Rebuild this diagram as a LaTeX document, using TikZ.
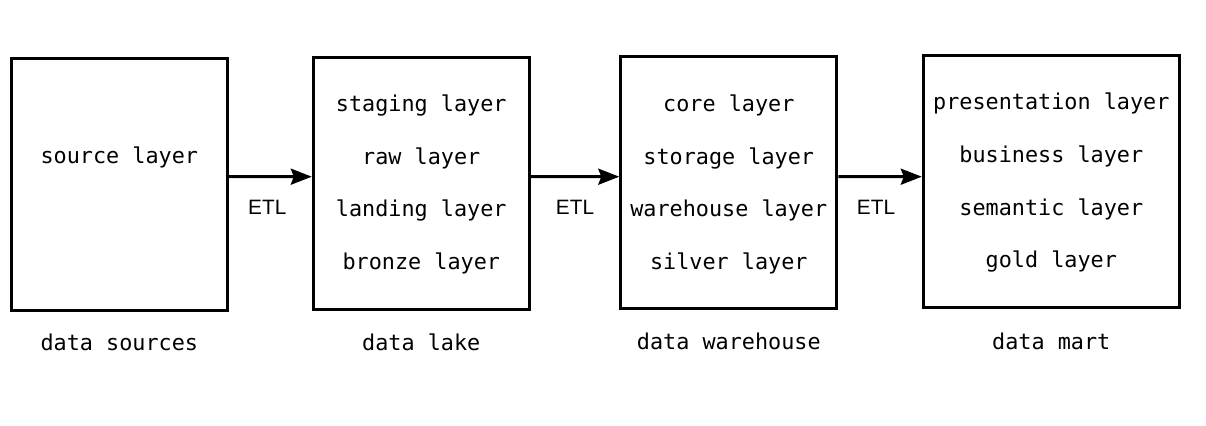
\documentclass[tikz,border=0pt]{standalone}
\usepackage{fontspec}
\newfontfamily\layerfont{DejaVu Sans Mono}
\newfontfamily\etlfont{Liberation Sans}
\usetikzlibrary{arrows.meta}

\begin{document}
\begin{tikzpicture}[x=0.5pt, y=-0.5pt,
    block/.style = {draw, line width=1.5pt, inner sep=0pt, minimum width=108pt, minimum height=126pt},
    layer/.style = {anchor=base, inner sep=0pt, font=\layerfont\fontsize{10.9}{13}\selectfont},
    flow/.style = {line width=1.5pt, -{Stealth[length=10.5pt, width=8pt, inset=1.5pt]}},
    etl/.style = {font=\etlfont\fontsize{10.4}{12}\selectfont}]

    % Frame
    \useasboundingbox (0,0) rectangle (1206,426);

    % Boxes
    \node[block] (src) at (119.3,184.5) {};
    \node[block] (lake) at (421.3,183.3) {};
    \node[block] (wh) at (728.8,183) {};
    \node[block, minimum width=128pt] (mart) at (1051.3,181.8) {};

    % Layers inside the boxes
    \node[layer] (src1) at (119.3,164) {source layer};
    \foreach \txt [count=\i] in {staging layer, raw layer, landing layer, bronze layer}
        \node[layer] (lake\i) at (421.3,59.1+52.6*\i) {\txt};
    \foreach \txt [count=\i] in {core layer, storage layer, warehouse layer, silver layer}
        \node[layer] (wh\i) at (728.8,59.1+52.6*\i) {\txt};
    \foreach \txt [count=\i] in {presentation layer, business layer, semantic layer, gold layer}
        \node[layer] (mart\i) at (1051.3,57.4+52.6*\i) {\txt};

    % Captions
    \node[layer] (srccap) at (119.3,351) {data sources};
    \node[layer] (lakecap) at (421.3,351) {data lake};
    \node[layer] (whcap) at (728.8,350) {data warehouse};
    \node[layer] (martcap) at (1051.3,350) {data mart};

    % ETL steps
    \draw[flow] ([yshift=3.9pt]src.east) -- node[etl, yshift=-15.4pt, xshift=-1.5pt] (etl1) {ETL} ([yshift=3.3pt]lake.west);
    \draw[flow] ([yshift=3.3pt]lake.east) -- node[etl, yshift=-15.2pt] (etl2) {ETL} ([yshift=3.15pt]wh.west);
    \draw[flow] ([yshift=3.15pt]wh.east) -- node[etl, yshift=-15.2pt, xshift=-2pt] (etl3) {ETL} ([yshift=2.55pt]mart.west);

\end{tikzpicture}
\end{document}
